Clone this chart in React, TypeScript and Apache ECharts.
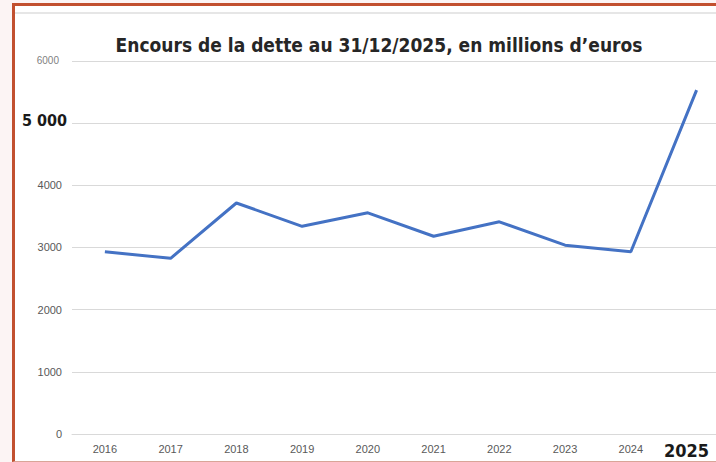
import React, { useEffect, useRef } from "react";
import * as echarts from "echarts";

const titleText = "Encours de la dette au 31/12/2025, en millions d’euros";
const years = ["2016", "2017", "2018", "2019", "2020", "2021", "2022", "2023", "2024", "2025"];
const debt = [2930, 2825, 3715, 3340, 3557, 3180, 3412, 3037, 2930, 5530];
const yTicks = [0, 1000, 2000, 3000, 4000, 5000, 6000];

const NARROW = "'DejaVu Sans Condensed', 'DejaVu Sans', sans-serif";
const SMALL = "'Liberation Sans', Arial, sans-serif";

export default function App() {
  const ref = useRef<HTMLDivElement>(null);
  useEffect(() => {
    if (!ref.current) return;
    const chart = echarts.init(ref.current, null, { renderer: "svg" });
    chart.setOption({
      animation: false,
      backgroundColor: "transparent",
      grid: { left: 72, right: 0, top: 60.9, bottom: 28, containLabel: false },
      graphic: [
        {
          type: "text",
          x: 379,
          y: 45,
          style: {
            text: titleText,
            fontFamily: NARROW,
            fontWeight: "bold",
            fontSize: 19,
            fill: "#262626",
            textAlign: "center",
            textVerticalAlign: "middle",
          },
        },
      ],
      xAxis: {
        type: "category",
        data: years,
        boundaryGap: true,
        axisLine: { show: true, lineStyle: { color: "#d9d9d9", width: 1 } },
        axisTick: { show: false },
        axisLabel: {
          margin: 9,
          interval: 0,
          formatter: (v: string) => (v === "2025" ? "{b|" + v + "}" : "{n|" + v + "}"),
          rich: {
            n: { fontFamily: SMALL, fontSize: 11, color: "#595959" },
            b: {
              fontFamily: NARROW,
              fontWeight: "bold",
              fontSize: 18,
              color: "#1a1a1a",
              lineHeight: 14,
              padding: [0, 20, 0, 0],
            },
          },
        },
      },
      yAxis: {
        type: "value",
        min: yTicks[0],
        max: yTicks[yTicks.length - 1],
        interval: 1000,
        axisLine: { show: false },
        axisTick: { show: false },
        splitLine: { lineStyle: { color: "#d9d9d9", width: 1 } },
        axisLabel: {
          margin: 5,
          formatter: (v: number) =>
            v === 5000 ? "{b|5 000}" : v === 6000 ? "{l|" + v + "}" : "{n|" + v + "}",
          rich: {
            n: { fontFamily: SMALL, fontSize: 11, color: "#595959", padding: [0, 5, 0, 0] },
            l: { fontFamily: SMALL, fontSize: 10, color: "#7f7f7f", padding: [0, 8, 0, 0] },
            b: {
              fontFamily: NARROW,
              fontWeight: "bold",
              fontSize: 16,
              color: "#1a1a1a",
              padding: [0, 0, 6, 0],
            },
          },
        },
      },
      series: [
        {
          type: "line",
          data: debt,
          symbol: "none",
          lineStyle: { color: "#4472C4", width: 3 },
        },
      ],
    });
    return () => chart.dispose();
  }, []);

  return (
    <div
      style={{
        position: "fixed",
        left: 0,
        top: 0,
        width: 716,
        height: 462,
        background: "#fcf4f4",
        overflow: "hidden",
      }}
    >
      <div
        style={{
          position: "absolute",
          left: 12,
          top: 3,
          right: 0,
          bottom: 0,
          background: "#ffffff",
          borderLeft: "3px solid #c2502f",
          borderTop: "3px solid #c2502f",
          borderBottom: "1px solid #d9a598",
        }}
      />
      <div
        style={{
          position: "absolute",
          left: 15,
          top: 12,
          right: 0,
          height: 2,
          background: "#e6e6e6",
        }}
      />
      <div ref={ref} style={{ position: "absolute", left: 0, top: 0, width: 732, height: 462 }} />
    </div>
  );
}
